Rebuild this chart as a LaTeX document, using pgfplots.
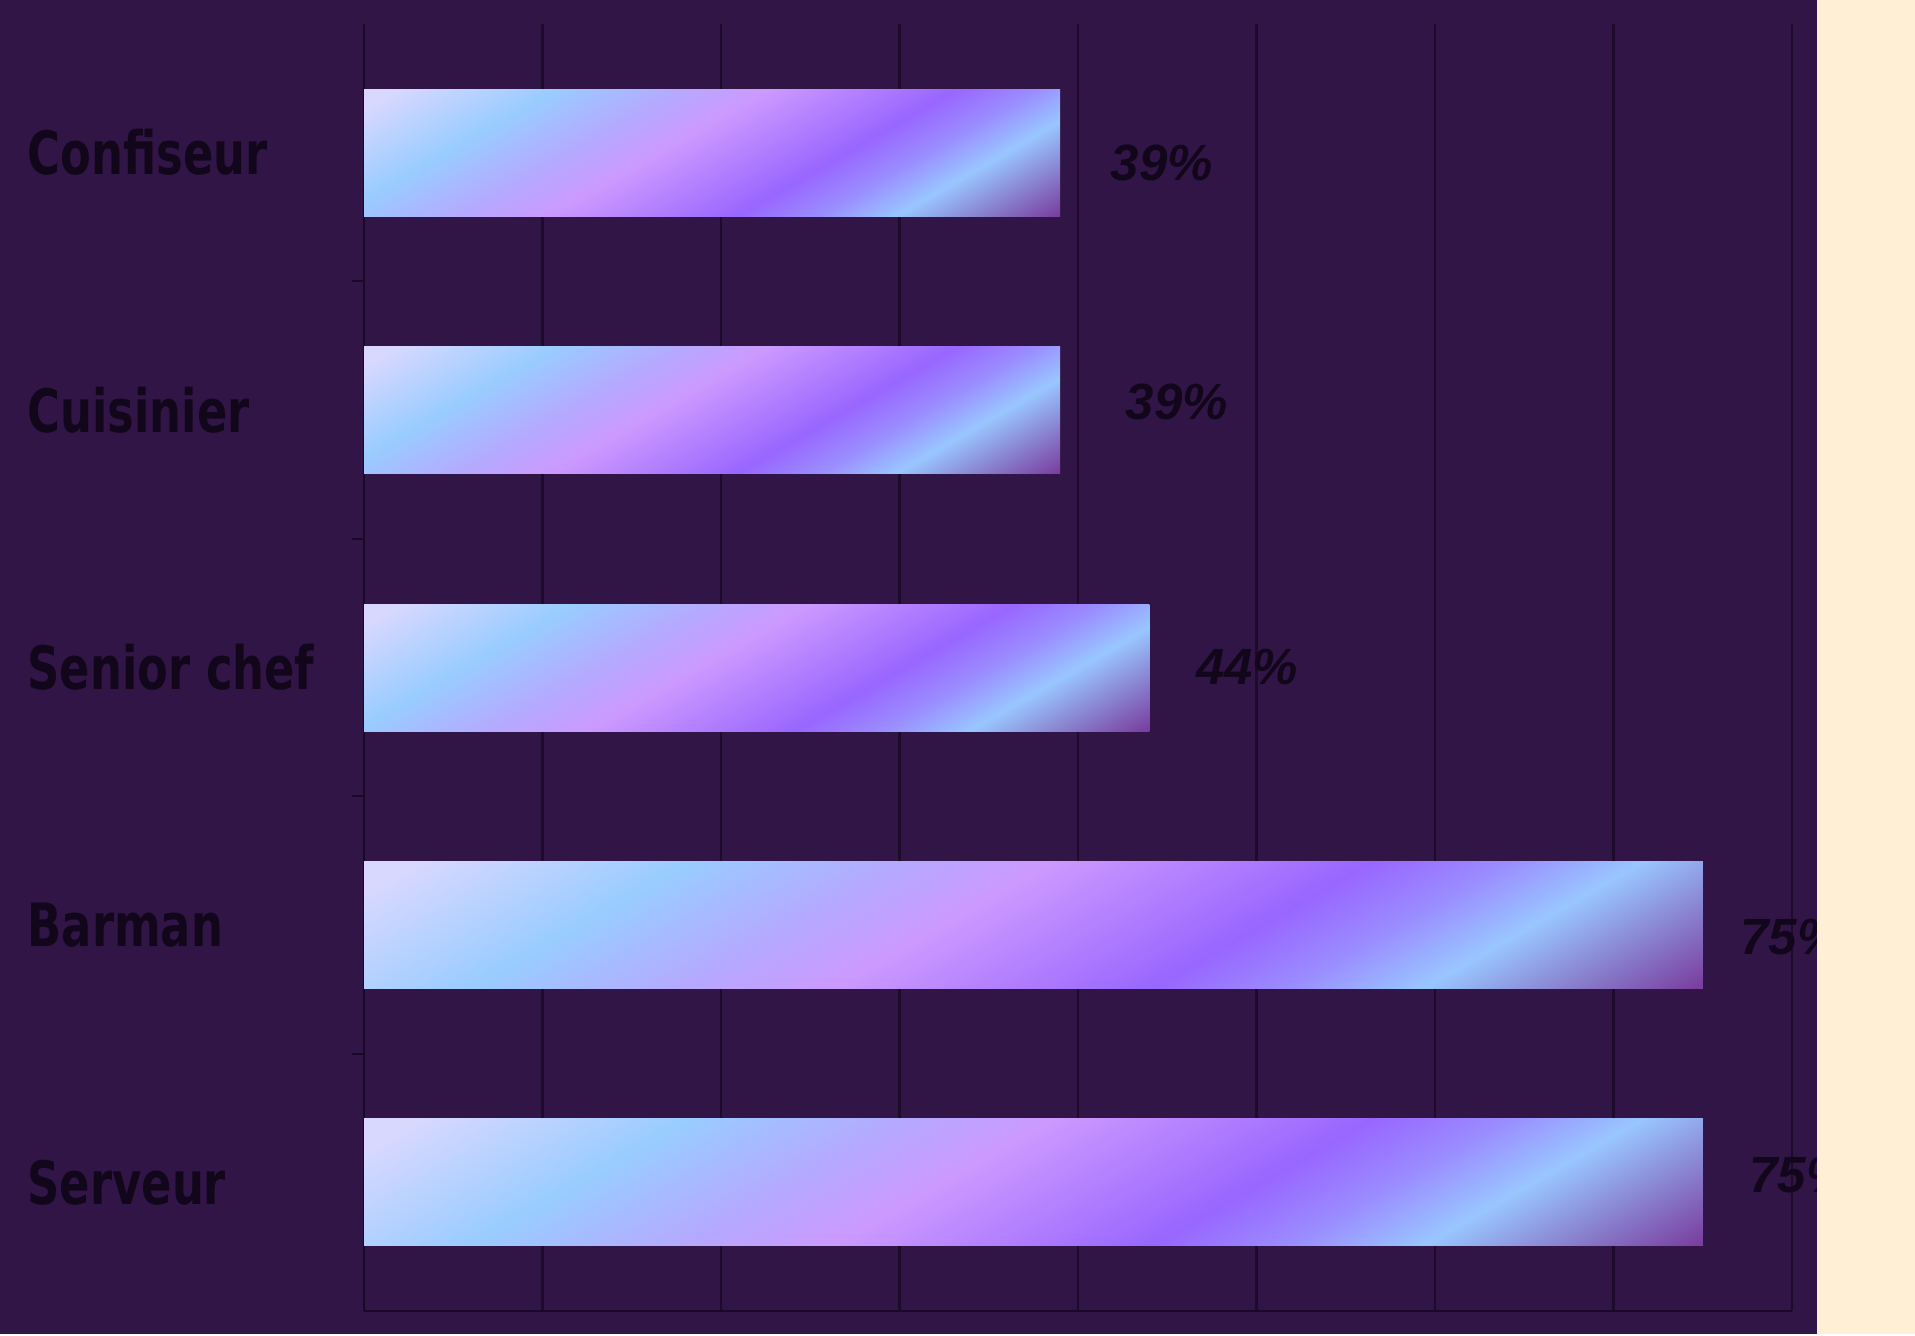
\documentclass[border=0pt]{standalone}
\usepackage{pgfplots}
\pgfplotsset{compat=1.18}
\usepackage{graphicx}
\usepackage{fontspec}
\setmainfont{Liberation Sans}
\newfontfamily\labfont{DejaVu Sans}
\definecolor{bgp}{HTML}{321547}
\definecolor{cream}{HTML}{FFEFD5}
\definecolor{gridc}{HTML}{1E0B2B}
\definecolor{axc}{HTML}{1A0926}
\definecolor{txt}{HTML}{12061A}
\definecolor{cA}{HTML}{D8D8FF}
\definecolor{cLB}{HTML}{99CCFF}
\definecolor{cLT}{HTML}{B4AAFF}
\definecolor{cPK}{HTML}{CC99FF}
\definecolor{cVI}{HTML}{9966FF}
\definecolor{cPW}{HTML}{9A8CFF}
\definecolor{cLB2}{HTML}{99C6FF}
\definecolor{cDK}{HTML}{7A3FA0}
\pgfdeclarehorizontalshading{barshade}{100bp}{color(0bp)=(cA); color(18bp)=(cA); color(30bp)=(cLB); color(39bp)=(cLT); color(46bp)=(cPK); color(60bp)=(cVI); color(66bp)=(cPW); color(72bp)=(cLB2); color(84bp)=(cDK); color(100bp)=(cDK)}
\newcommand{\cat}[1]{\scalebox{0.75}[1]{\labfont\bfseries #1}}
\pgfplotsset{
  mybar/.style={xbar, bar width=1.27cm, bar shift=0pt, draw=none, shade, shading=barshade, shading angle=-60,
    point meta=x,
    nodes near coords={\pgfmathprintnumber[fixed,precision=0,assume math mode=true]{\pgfplotspointmeta}\%},
    every node near coord/.append style={anchor=west, inner sep=0pt, text=txt,
      font=\fontsize{14.5}{17}\selectfont\bfseries\itshape}},
}
\begin{document}
\begin{tikzpicture}
\fill[bgp] (0,0) rectangle (18.17,13.34);
\begin{axis}[
  at={(3.64cm,0.23cm)}, anchor=south west, scale only axis,
  width=14.28cm, height=12.87cm,
  xmin=0, xmax=80, ymin=-0.5, ymax=4.5,
  xtick={0,10,...,80}, xticklabels={},
  xmajorgrids, major grid style={color=gridc, line width=0.6pt},
  axis x line*=bottom, axis y line*=left,
  axis line style={color=axc, line width=0.8pt, -},
  ytick={0,1,2,3,4},
  yticklabels={\cat{Serveur},\cat{Barman},\cat{Senior chef},\cat{Cuisinier},\cat{Confiseur}},
  major tick length=0pt,
  extra y ticks={0.5,1.5,2.5,3.5}, extra y tick labels={},
  extra y tick style={major tick length=0.12cm, tick align=outside, tick style={color=axc, line width=0.6pt}},
  yticklabel style={anchor=west, inner sep=0pt, xshift=-3.37cm, text=txt, font=\fontsize{17}{20}\selectfont},
  clip=false,
]
\addplot[mybar, every node near coord/.append style={xshift=0.50cm, yshift=-0.10cm}] coordinates {(39,4)};
\addplot[mybar, every node near coord/.append style={xshift=0.65cm, yshift=0.08cm}] coordinates {(39,3)};
\addplot[mybar, every node near coord/.append style={xshift=0.46cm, yshift=0cm}] coordinates {(44,2)};
\addplot[mybar, every node near coord/.append style={xshift=0.37cm, yshift=-0.12cm}] coordinates {(75,1)};
\addplot[mybar, every node near coord/.append style={xshift=0.46cm, yshift=0.07cm}] coordinates {(75,0)};
\end{axis}
\fill[cream] (18.17,0) rectangle (19.15,13.34);
\useasboundingbox (0,0) rectangle (19.15,13.34);
\end{tikzpicture}
\end{document}
